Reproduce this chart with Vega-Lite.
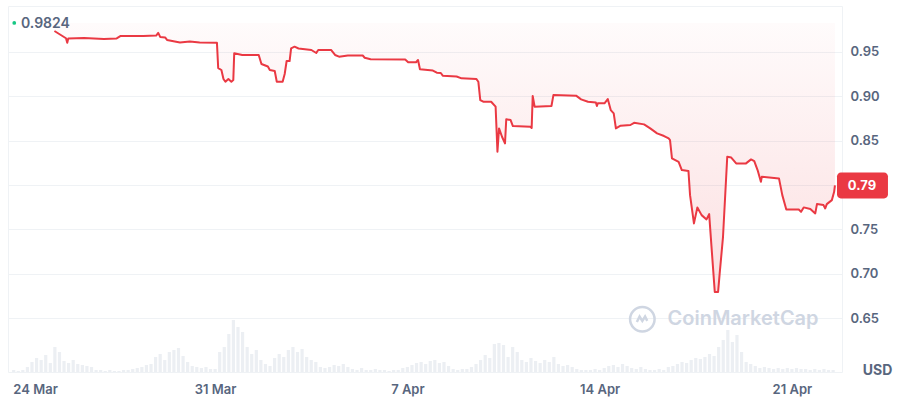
{
  "$schema": "https://vega.github.io/schema/vega-lite/v6.json",
  "width": 834,
  "height": 366,
  "autosize": {"type": "none"},
  "padding": {"left": 8, "top": 6, "right": 58, "bottom": 28},
  "background": "white",
  "config": {
    "font": "Inter",
    "view": {"stroke": "#eff2f5", "strokeWidth": 1},
    "axis": {"domain": false, "ticks": false, "labelColor": "#58667e", "labelFont": "Inter", "labelFontSize": 13, "labelFontWeight": 600, "gridColor": "#eff2f5", "gridWidth": 1}
  },
  "datasets": {
    "price": [
      {"t":"2025-03-25T03:36","p":0.9733},
      {"t":"2025-03-25T13:42","p":0.9651},
      {"t":"2025-03-25T14:48","p":0.9601},
      {"t":"2025-03-25T15:42","p":0.9649},
      {"t":"2025-03-26T05:30","p":0.9654},
      {"t":"2025-03-26T22:48","p":0.9643},
      {"t":"2025-03-27T10:00","p":0.9649},
      {"t":"2025-03-27T13:30","p":0.9677},
      {"t":"2025-03-28T09:18","p":0.9677},
      {"t":"2025-03-28T20:30","p":0.9682},
      {"t":"2025-03-28T22:18","p":0.9711},
      {"t":"2025-03-29T00:00","p":0.9666},
      {"t":"2025-03-29T04:18","p":0.9660},
      {"t":"2025-03-29T06:00","p":0.9632},
      {"t":"2025-03-29T17:18","p":0.9604},
      {"t":"2025-03-30T01:54","p":0.9615},
      {"t":"2025-03-30T10:30","p":0.9604},
      {"t":"2025-03-31T01:36","p":0.9601},
      {"t":"2025-03-31T02:42","p":0.9316},
      {"t":"2025-03-31T05:30","p":0.9294},
      {"t":"2025-03-31T07:18","p":0.9193},
      {"t":"2025-03-31T09:00","p":0.9162},
      {"t":"2025-03-31T11:36","p":0.9193},
      {"t":"2025-03-31T14:12","p":0.9162},
      {"t":"2025-03-31T15:54","p":0.9181},
      {"t":"2025-03-31T16:42","p":0.9482},
      {"t":"2025-03-31T23:42","p":0.9463},
      {"t":"2025-04-01T14:06","p":0.9463},
      {"t":"2025-04-01T16:30","p":0.9361},
      {"t":"2025-04-01T22:06","p":0.9333},
      {"t":"2025-04-01T23:48","p":0.9294},
      {"t":"2025-04-02T04:06","p":0.9283},
      {"t":"2025-04-02T05:54","p":0.9162},
      {"t":"2025-04-02T11:00","p":0.9162},
      {"t":"2025-04-02T12:48","p":0.9249},
      {"t":"2025-04-02T14:30","p":0.9395},
      {"t":"2025-04-02T17:06","p":0.9395},
      {"t":"2025-04-02T18:24","p":0.9538},
      {"t":"2025-04-02T21:24","p":0.9556},
      {"t":"2025-04-03T00:54","p":0.9536},
      {"t":"2025-04-03T12:06","p":0.9519},
      {"t":"2025-04-03T16:24","p":0.9485},
      {"t":"2025-04-03T18:06","p":0.9519},
      {"t":"2025-04-04T05:18","p":0.9519},
      {"t":"2025-04-04T08:48","p":0.9463},
      {"t":"2025-04-04T12:18","p":0.9444},
      {"t":"2025-04-04T20:00","p":0.9457},
      {"t":"2025-04-05T09:00","p":0.9457},
      {"t":"2025-04-05T10:42","p":0.9432},
      {"t":"2025-04-05T15:54","p":0.9414},
      {"t":"2025-04-06T22:06","p":0.9412},
      {"t":"2025-04-07T00:42","p":0.9381},
      {"t":"2025-04-07T07:36","p":0.9381},
      {"t":"2025-04-07T09:18","p":0.9407},
      {"t":"2025-04-07T11:00","p":0.9302},
      {"t":"2025-04-07T22:18","p":0.9288},
      {"t":"2025-04-08T01:42","p":0.9264},
      {"t":"2025-04-08T05:12","p":0.9260},
      {"t":"2025-04-08T06:54","p":0.9230},
      {"t":"2025-04-08T19:00","p":0.9221},
      {"t":"2025-04-08T23:18","p":0.9200},
      {"t":"2025-04-09T12:12","p":0.9193},
      {"t":"2025-04-09T14:00","p":0.9162},
      {"t":"2025-04-09T15:42","p":0.8956},
      {"t":"2025-04-09T18:18","p":0.8937},
      {"t":"2025-04-10T01:12","p":0.8937},
      {"t":"2025-04-10T05:06","p":0.8881},
      {"t":"2025-04-10T06:42","p":0.8374},
      {"t":"2025-04-10T08:06","p":0.8637},
      {"t":"2025-04-10T10:42","p":0.8543},
      {"t":"2025-04-10T13:18","p":0.8468},
      {"t":"2025-04-10T14:24","p":0.8739},
      {"t":"2025-04-10T18:12","p":0.8731},
      {"t":"2025-04-10T20:12","p":0.8663},
      {"t":"2025-04-11T11:30","p":0.8655},
      {"t":"2025-04-11T12:36","p":0.8641},
      {"t":"2025-04-11T13:30","p":0.9001},
      {"t":"2025-04-11T15:12","p":0.8881},
      {"t":"2025-04-12T05:54","p":0.8889},
      {"t":"2025-04-12T07:36","p":0.9012},
      {"t":"2025-04-13T03:24","p":0.9005},
      {"t":"2025-04-13T07:48","p":0.8964},
      {"t":"2025-04-13T13:48","p":0.8937},
      {"t":"2025-04-13T20:42","p":0.8928},
      {"t":"2025-04-13T21:36","p":0.8889},
      {"t":"2025-04-13T22:24","p":0.8919},
      {"t":"2025-04-14T04:12","p":0.8919},
      {"t":"2025-04-14T07:06","p":0.8967},
      {"t":"2025-04-14T09:42","p":0.8843},
      {"t":"2025-04-14T12:18","p":0.8806},
      {"t":"2025-04-14T14:12","p":0.8637},
      {"t":"2025-04-14T18:18","p":0.8667},
      {"t":"2025-04-15T02:54","p":0.8675},
      {"t":"2025-04-15T06:06","p":0.8700},
      {"t":"2025-04-15T14:48","p":0.8682},
      {"t":"2025-04-15T20:12","p":0.8637},
      {"t":"2025-04-16T02:12","p":0.8581},
      {"t":"2025-04-16T08:18","p":0.8551},
      {"t":"2025-04-16T12:18","p":0.8525},
      {"t":"2025-04-16T13:30","p":0.8506},
      {"t":"2025-04-16T15:12","p":0.8300},
      {"t":"2025-04-16T21:00","p":0.8261},
      {"t":"2025-04-16T23:48","p":0.8168},
      {"t":"2025-04-17T05:36","p":0.8157},
      {"t":"2025-04-17T07:00","p":0.7886},
      {"t":"2025-04-17T10:24","p":0.7568},
      {"t":"2025-04-17T13:24","p":0.7748},
      {"t":"2025-04-17T17:06","p":0.7661},
      {"t":"2025-04-17T21:24","p":0.7613},
      {"t":"2025-04-17T23:42","p":0.7672},
      {"t":"2025-04-18T01:42","p":0.7312},
      {"t":"2025-04-18T04:36","p":0.6797},
      {"t":"2025-04-18T07:30","p":0.6797},
      {"t":"2025-04-18T08:54","p":0.7005},
      {"t":"2025-04-18T11:48","p":0.7417},
      {"t":"2025-04-18T15:30","p":0.8318},
      {"t":"2025-04-18T19:00","p":0.8309},
      {"t":"2025-04-18T23:18","p":0.8243},
      {"t":"2025-04-19T07:54","p":0.8243},
      {"t":"2025-04-19T12:18","p":0.8288},
      {"t":"2025-04-19T15:06","p":0.8269},
      {"t":"2025-04-19T18:00","p":0.8168},
      {"t":"2025-04-19T20:54","p":0.8036},
      {"t":"2025-04-19T21:42","p":0.8092},
      {"t":"2025-04-20T12:42","p":0.8074},
      {"t":"2025-04-20T15:36","p":0.7886},
      {"t":"2025-04-20T19:06","p":0.7725},
      {"t":"2025-04-21T06:00","p":0.7725},
      {"t":"2025-04-21T08:00","p":0.7698},
      {"t":"2025-04-21T10:18","p":0.7748},
      {"t":"2025-04-21T16:06","p":0.7729},
      {"t":"2025-04-21T20:24","p":0.7680},
      {"t":"2025-04-21T21:54","p":0.7785},
      {"t":"2025-04-22T03:36","p":0.7774},
      {"t":"2025-04-22T05:06","p":0.7736},
      {"t":"2025-04-22T06:30","p":0.7785},
      {"t":"2025-04-22T10:54","p":0.7830},
      {"t":"2025-04-22T12:54","p":0.7923},
      {"t":"2025-04-22T13:36","p":0.7995}
    ],
    "volume": [
      {"t":"2025-03-23T16:00","v":2},{"t":"2025-03-23T20:00","v":1},
      {"t":"2025-03-24T00:00","v":2},{"t":"2025-03-24T04:00","v":5},{"t":"2025-03-24T08:00","v":10},{"t":"2025-03-24T12:00","v":14},{"t":"2025-03-24T16:00","v":12},{"t":"2025-03-24T20:00","v":17},
      {"t":"2025-03-25T00:00","v":9},{"t":"2025-03-25T04:00","v":25},{"t":"2025-03-25T08:00","v":20},{"t":"2025-03-25T12:00","v":11},{"t":"2025-03-25T16:00","v":9},{"t":"2025-03-25T20:00","v":12},
      {"t":"2025-03-26T00:00","v":8},{"t":"2025-03-26T04:00","v":7},{"t":"2025-03-26T08:00","v":6},{"t":"2025-03-26T12:00","v":5},{"t":"2025-03-26T16:00","v":2},{"t":"2025-03-26T20:00","v":2},
      {"t":"2025-03-27T00:00","v":1},{"t":"2025-03-27T04:00","v":2},{"t":"2025-03-27T08:00","v":1},{"t":"2025-03-27T12:00","v":1},{"t":"2025-03-27T16:00","v":2},{"t":"2025-03-27T20:00","v":2},
      {"t":"2025-03-28T00:00","v":3},{"t":"2025-03-28T04:00","v":4},{"t":"2025-03-28T08:00","v":5},{"t":"2025-03-28T12:00","v":7},{"t":"2025-03-28T16:00","v":8},{"t":"2025-03-28T20:00","v":15},
      {"t":"2025-03-29T00:00","v":18},{"t":"2025-03-29T04:00","v":12},{"t":"2025-03-29T08:00","v":20},{"t":"2025-03-29T12:00","v":22},{"t":"2025-03-29T16:00","v":24},{"t":"2025-03-29T20:00","v":16},
      {"t":"2025-03-30T00:00","v":10},{"t":"2025-03-30T04:00","v":6},{"t":"2025-03-30T08:00","v":5},{"t":"2025-03-30T12:00","v":4},{"t":"2025-03-30T16:00","v":5},{"t":"2025-03-30T20:00","v":3},
      {"t":"2025-03-31T00:00","v":3},{"t":"2025-03-31T04:00","v":20},{"t":"2025-03-31T08:00","v":25},{"t":"2025-03-31T12:00","v":38},{"t":"2025-03-31T16:00","v":52},{"t":"2025-03-31T20:00","v":45},
      {"t":"2025-04-01T00:00","v":40},{"t":"2025-04-01T04:00","v":25},{"t":"2025-04-01T08:00","v":18},{"t":"2025-04-01T12:00","v":22},{"t":"2025-04-01T16:00","v":12},{"t":"2025-04-01T20:00","v":8},
      {"t":"2025-04-02T00:00","v":6},{"t":"2025-04-02T04:00","v":14},{"t":"2025-04-02T08:00","v":18},{"t":"2025-04-02T12:00","v":15},{"t":"2025-04-02T16:00","v":22},{"t":"2025-04-02T20:00","v":25},
      {"t":"2025-04-03T00:00","v":20},{"t":"2025-04-03T04:00","v":23},{"t":"2025-04-03T08:00","v":15},{"t":"2025-04-03T12:00","v":12},{"t":"2025-04-03T16:00","v":10},{"t":"2025-04-03T20:00","v":5},
      {"t":"2025-04-04T00:00","v":4},{"t":"2025-04-04T04:00","v":5},{"t":"2025-04-04T08:00","v":7},{"t":"2025-04-04T12:00","v":6},{"t":"2025-04-04T16:00","v":8},{"t":"2025-04-04T20:00","v":5},
      {"t":"2025-04-05T00:00","v":3},{"t":"2025-04-05T04:00","v":2},{"t":"2025-04-05T08:00","v":4},{"t":"2025-04-05T12:00","v":2},{"t":"2025-04-05T16:00","v":2},{"t":"2025-04-05T20:00","v":3},
      {"t":"2025-04-06T00:00","v":2},{"t":"2025-04-06T04:00","v":2},{"t":"2025-04-06T08:00","v":1},{"t":"2025-04-06T12:00","v":2},{"t":"2025-04-06T16:00","v":2},{"t":"2025-04-06T20:00","v":4},
      {"t":"2025-04-07T00:00","v":5},{"t":"2025-04-07T04:00","v":7},{"t":"2025-04-07T08:00","v":9},{"t":"2025-04-07T12:00","v":10},{"t":"2025-04-07T16:00","v":8},{"t":"2025-04-07T20:00","v":11},
      {"t":"2025-04-08T00:00","v":12},{"t":"2025-04-08T04:00","v":9},{"t":"2025-04-08T08:00","v":10},{"t":"2025-04-08T12:00","v":6},{"t":"2025-04-08T16:00","v":3},{"t":"2025-04-08T20:00","v":2},
      {"t":"2025-04-09T00:00","v":3},{"t":"2025-04-09T04:00","v":3},{"t":"2025-04-09T08:00","v":5},{"t":"2025-04-09T12:00","v":8},{"t":"2025-04-09T16:00","v":12},{"t":"2025-04-09T20:00","v":17},
      {"t":"2025-04-10T00:00","v":14},{"t":"2025-04-10T04:00","v":28},{"t":"2025-04-10T08:00","v":29},{"t":"2025-04-10T12:00","v":27},{"t":"2025-04-10T16:00","v":15},{"t":"2025-04-10T20:00","v":25},
      {"t":"2025-04-11T00:00","v":20},{"t":"2025-04-11T04:00","v":12},{"t":"2025-04-11T08:00","v":10},{"t":"2025-04-11T12:00","v":14},{"t":"2025-04-11T16:00","v":11},{"t":"2025-04-11T20:00","v":9},
      {"t":"2025-04-12T00:00","v":12},{"t":"2025-04-12T04:00","v":10},{"t":"2025-04-12T08:00","v":15},{"t":"2025-04-12T12:00","v":8},{"t":"2025-04-12T16:00","v":6},{"t":"2025-04-12T20:00","v":7},
      {"t":"2025-04-13T00:00","v":5},{"t":"2025-04-13T04:00","v":3},{"t":"2025-04-13T08:00","v":2},{"t":"2025-04-13T12:00","v":2},{"t":"2025-04-13T16:00","v":2},{"t":"2025-04-13T20:00","v":3},
      {"t":"2025-04-14T00:00","v":2},{"t":"2025-04-14T04:00","v":4},{"t":"2025-04-14T08:00","v":6},{"t":"2025-04-14T12:00","v":7},{"t":"2025-04-14T16:00","v":5},{"t":"2025-04-14T20:00","v":8},
      {"t":"2025-04-15T00:00","v":6},{"t":"2025-04-15T04:00","v":4},{"t":"2025-04-15T08:00","v":3},{"t":"2025-04-15T12:00","v":5},{"t":"2025-04-15T16:00","v":3},{"t":"2025-04-15T20:00","v":2},
      {"t":"2025-04-16T00:00","v":2},{"t":"2025-04-16T04:00","v":3},{"t":"2025-04-16T08:00","v":2},{"t":"2025-04-16T12:00","v":5},{"t":"2025-04-16T16:00","v":6},{"t":"2025-04-16T20:00","v":8},
      {"t":"2025-04-17T00:00","v":10},{"t":"2025-04-17T04:00","v":9},{"t":"2025-04-17T08:00","v":12},{"t":"2025-04-17T12:00","v":14},{"t":"2025-04-17T16:00","v":13},{"t":"2025-04-17T20:00","v":15},
      {"t":"2025-04-18T00:00","v":18},{"t":"2025-04-18T04:00","v":16},{"t":"2025-04-18T08:00","v":25},{"t":"2025-04-18T12:00","v":32},{"t":"2025-04-18T16:00","v":42},{"t":"2025-04-18T20:00","v":30},
      {"t":"2025-04-19T00:00","v":37},{"t":"2025-04-19T04:00","v":20},{"t":"2025-04-19T08:00","v":10},{"t":"2025-04-19T12:00","v":8},{"t":"2025-04-19T16:00","v":6},{"t":"2025-04-19T20:00","v":4},
      {"t":"2025-04-20T00:00","v":5},{"t":"2025-04-20T04:00","v":4},{"t":"2025-04-20T08:00","v":3},{"t":"2025-04-20T12:00","v":4},{"t":"2025-04-20T16:00","v":3},{"t":"2025-04-20T20:00","v":4},
      {"t":"2025-04-21T00:00","v":3},{"t":"2025-04-21T04:00","v":4},{"t":"2025-04-21T08:00","v":3},{"t":"2025-04-21T12:00","v":3},{"t":"2025-04-21T16:00","v":2},{"t":"2025-04-21T20:00","v":3},
      {"t":"2025-04-22T00:00","v":2},{"t":"2025-04-22T04:00","v":3},{"t":"2025-04-22T08:00","v":2},{"t":"2025-04-22T12:00","v":2}
    ],
    "notes": [
      {"label": "0.9824", "p": 0.9824},
      {"label": "0.79", "p": 0.7995}
    ],
    "mark": [
      {"label": "CoinMarketCap", "p": 0.649}
    ]
  },
  "resolve": {"scale": {"y": "independent"}},
  "layer": [
    {
      "data": {"name": "volume"},
      "mark": {"type": "bar", "width": 3.2, "color": "#eceff3"},
      "encoding": {
        "x": {"field": "t", "type": "temporal",
              "scale": {"domain": [{"year":2025,"month":3,"date":23,"hours":15,"minutes":24},{"year":2025,"month":4,"date":22,"hours":15,"minutes":24}]},
              "axis": {"title": null, "grid": false, "format": "%-d %b", "labelFlush": 20, "labelFlushOffset": 10, "labelPadding": 11, "labelFontSize": 13,
                       "values": [{"year":2025,"month":3,"date":24},{"year":2025,"month":3,"date":31},{"year":2025,"month":4,"date":7},{"year":2025,"month":4,"date":14},{"year":2025,"month":4,"date":21}]}},
        "y": {"field": "v", "type": "quantitative", "scale": {"domain": [0, 366]}, "axis": null}
      }
    },
    {
      "layer": [
        {
          "data": {"name": "price"},
          "mark": {"type": "area", "color": {"x1": 0, "y1": 0, "x2": 0, "y2": 1, "gradient": "linear", "stops": [{"offset": 0, "color": "rgba(234,57,67,0.02)"}, {"offset": 1, "color": "rgba(234,57,67,0.16)"}]}},
          "encoding": {
            "x": {"field": "t", "type": "temporal"},
            "y": {"field": "p", "type": "quantitative",
                  "scale": {"domain": [0.5896, 1.0014], "nice": false, "zero": false},
                  "axis": {"orient": "right", "grid": true, "values": [0.65, 0.7, 0.75, 0.8, 0.85, 0.9, 0.95], "format": ".2f", "labelExpr": "datum.label == '0.80' ? '' : datum.label", "labelPadding": 8,
                           "title": "USD", "titleAngle": 0, "titleX": 35, "titleY": 364, "titleAlign": "center", "titleBaseline": "middle", "titleColor": "#58667e", "titleFontSize": 14, "titleFontWeight": 700, "titleFont": "Inter"}},
            "y2": {"datum": 0.9824}
          }
        },
        {
          "mark": {"type": "rule", "color": "#a6b0c3", "strokeDash": [1.5, 4], "strokeWidth": 1.5},
          "encoding": {
            "x": {"datum": {"year":2025,"month":3,"date":25,"hours":23,"minutes":30}, "type": "temporal"},
            "x2": {"datum": {"year":2025,"month":4,"date":22,"hours":15,"minutes":0}},
            "y": {"datum": 0.9824, "type": "quantitative"}
          }
        },
        {
          "data": {"name": "price"},
          "mark": {"type": "line", "color": "#ea3943", "strokeWidth": 2, "strokeJoin": "round"},
          "encoding": {
            "x": {"field": "t", "type": "temporal"},
            "y": {"field": "p", "type": "quantitative"}
          }
        },
        {
          "data": {"name": "notes"},
          "transform": [{"filter": "datum.label == '0.9824'"}],
          "mark": {"type": "point", "shape": "circle", "filled": true, "size": 14, "color": "#16c784", "opacity": 1},
          "encoding": {
            "x": {"datum": {"year":2025,"month":3,"date":23,"hours":16,"minutes":30}, "type": "temporal"},
            "y": {"field": "p", "type": "quantitative"}
          }
        },
        {
          "data": {"name": "notes"},
          "transform": [{"filter": "datum.label == '0.9824'"}],
          "mark": {"type": "text", "align": "left", "baseline": "middle", "dx": 8, "dy": 1, "fontSize": 14, "fontWeight": 600, "color": "#58667e", "font": "Inter"},
          "encoding": {
            "x": {"datum": {"year":2025,"month":3,"date":23,"hours":15,"minutes":24}, "type": "temporal"},
            "y": {"field": "p", "type": "quantitative"},
            "text": {"field": "label"}
          }
        },
        {
          "data": {"name": "notes"},
          "transform": [{"filter": "datum.label == '0.79'"}],
          "mark": {"type": "point", "shape": "M0.15,-0.5H1.81A0.15,0.15 0 0 1 1.96,-0.35V0.35A0.15,0.15 0 0 1 1.81,0.5H0.15A0.15,0.15 0 0 1 0,0.35V-0.35A0.15,0.15 0 0 1 0.15,-0.5Z", "filled": true, "size": 2704, "color": "#ea3943", "opacity": 1, "strokeWidth": 0},
          "encoding": {
            "x": {"datum": {"year":2025,"month":4,"date":22,"hours":15,"minutes":24}, "type": "temporal"},
            "y": {"field": "p", "type": "quantitative"}
          }
        },
        {
          "data": {"name": "notes"},
          "transform": [{"filter": "datum.label == '0.79'"}],
          "mark": {"type": "text", "align": "center", "baseline": "middle", "dx": 25, "dy": 1, "fontSize": 13, "fontWeight": 700, "color": "white", "font": "Inter"},
          "encoding": {
            "x": {"datum": {"year":2025,"month":4,"date":22,"hours":15,"minutes":24}, "type": "temporal"},
            "y": {"field": "p", "type": "quantitative"},
            "text": {"field": "label"}
          }
        },
        {
          "data": {"name": "mark"},
          "mark": {"type": "text", "align": "center", "baseline": "middle", "fontSize": 20, "fontWeight": 600, "color": "#cfd6e2", "font": "Inter"},
          "encoding": {
            "x": {"datum": {"year":2025,"month":4,"date":19,"hours":5,"minutes":18}, "type": "temporal"},
            "y": {"field": "p", "type": "quantitative"},
            "text": {"field": "label"}
          }
        },
        {
          "data": {"name": "mark"},
          "mark": {"type": "point", "shape": "circle", "filled": false, "size": 600, "color": "#cfd6e2", "strokeWidth": 2.5, "opacity": 1},
          "encoding": {
            "x": {"datum": {"year":2025,"month":4,"date":15,"hours":13,"minutes":18}, "type": "temporal"},
            "y": {"field": "p", "type": "quantitative"}
          }
        },
        {
          "data": {"name": "mark"},
          "mark": {"type": "point", "shape": "M-1,0.5L-0.5,-0.5L0,0.3L0.5,-0.5L0.9,0.3", "filled": false, "size": 120, "color": "#cfd6e2", "strokeWidth": 2.5, "opacity": 1},
          "encoding": {
            "x": {"datum": {"year":2025,"month":4,"date":15,"hours":13,"minutes":18}, "type": "temporal"},
            "y": {"field": "p", "type": "quantitative"}
          }
        }
      ]
    }
  ]
}
